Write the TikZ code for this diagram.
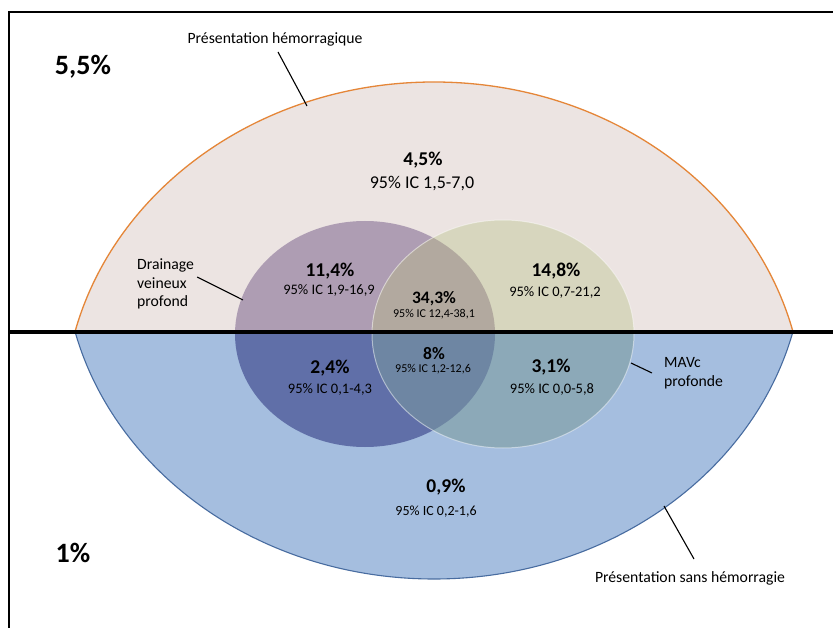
\documentclass[tikz,border=0pt]{standalone}
\usepackage{fontspec}
\setmainfont{Carlito}
\definecolor{hemoFill}{RGB}{236,228,226}
\definecolor{hemoLine}{RGB}{229,134,56}
\definecolor{sansFill}{RGB}{165,190,223}
\definecolor{sansLine}{RGB}{72,108,160}
\definecolor{drainHi}{RGB}{174,157,179}
\definecolor{drainLo}{RGB}{96,111,168}
\definecolor{mavcHi}{RGB}{215,214,190}
\definecolor{mavcLo}{RGB}{140,169,184}
\definecolor{bothHi}{RGB}{178,169,159}
\definecolor{bothLo}{RGB}{110,134,163}

\begin{document}
\begin{tikzpicture}[x = 1pt, y = -1pt]
\tikzstyle{PctStyle}=[font = \fontsize{19.5}{23}\selectfont\bfseries,
                      inner sep = 0pt]
\tikzstyle{CiStyle}=[font = \fontsize{14.5}{17}\selectfont,
                     inner sep = 0pt]
\tikzstyle{LabelStyle}=[font = \fontsize{15.7}{18.5}\selectfont,
                        inner sep = 0pt]
\tikzstyle{LeadStyle}=[line width = 1.1pt]
\tikzstyle{DrainShape}=[x radius = 130pt, y radius = 113pt]
\tikzstyle{MavcShape}=[x radius = 131pt, y radius = 114pt]
\useasboundingbox (0,0) rectangle (833,628);
\fill[white] (0,0) rectangle (833,628);
% the two halves
\begin{scope}
\clip (0,0) rectangle (833,332);
\filldraw[fill = hemoFill, draw = hemoLine, line width = 1.3pt]
  (434,412) ellipse [x radius = 370pt, y radius = 330pt];
\fill[drainHi] (365,334) ellipse [DrainShape];
\fill[mavcHi] (503,334) ellipse [MavcShape];
\clip (365,334) ellipse [DrainShape];
\fill[bothHi] (503,334) ellipse [MavcShape];
\end{scope}
\begin{scope}
\clip (0,332) rectangle (833,628);
\filldraw[fill = sansFill, draw = sansLine, line width = 1.1pt]
  (434,252) ellipse [x radius = 370pt, y radius = 327pt];
\fill[drainLo] (365,334) ellipse [DrainShape];
\fill[mavcLo] (503,334) ellipse [MavcShape];
\clip (365,334) ellipse [DrainShape];
\fill[bothLo] (503,334) ellipse [MavcShape];
\end{scope}
\draw[white, opacity = 0.45, line width = 1pt] (503,334) ellipse [MavcShape];
% frame
\draw[line width = 2pt] (9,628) -- (9,12) -- (833,12);
\draw[line width = 3.6pt] (9,332) -- (833,332);
% totals
\node[font = \fontsize{28}{32}\selectfont\bfseries, inner sep = 0pt] (tot55) at (83,67) {5,5\%};
\node[font = \fontsize{28}{32}\selectfont\bfseries, inner sep = 0pt] (tot1) at (73,553) {1\%};
% regions
\node[PctStyle] (p45) at (423,160) {4,5\%};
\node[CiStyle, font = \fontsize{18}{21}\selectfont] (ci45) at (422,184) {95\% IC 1,5-7,0};
\node[PctStyle] (p114) at (330,271) {11,4\%};
\node[CiStyle] (ci114) at (329,290) {95\% IC 1,9-16,9};
\node[PctStyle] (p148) at (556,271) {14,8\%};
\node[CiStyle] (ci148) at (555,292) {95\% IC 0,7-21,2};
\node[PctStyle, font = \fontsize{17.5}{21}\selectfont\bfseries] (p343) at (434,299) {34,3\%};
\node[CiStyle, font = \fontsize{12}{14}\selectfont] (ci343) at (434,314) {95\% IC 12,4-38,1};
\node[PctStyle] (p24) at (330,368) {2,4\%};
\node[CiStyle] (ci24) at (330,389) {95\% IC 0,1-4,3};
\node[PctStyle, font = \fontsize{17.5}{21}\selectfont\bfseries] (p8) at (434,354) {8\%};
\node[CiStyle, font = \fontsize{12}{14}\selectfont] (ci8) at (433,369) {95\% IC 1,2-12,6};
\node[PctStyle] (p31) at (551,367) {3,1\%};
\node[CiStyle] (ci31) at (552,389) {95\% IC 0,0-5,8};
\node[PctStyle] (p09) at (446,487) {0,9\%};
\node[CiStyle, font = \fontsize{14}{17}\selectfont] (ci09) at (436,512) {95\% IC 0,2-1,6};
% labels
\node[LabelStyle] (hemo) at (275,39) {Présentation hémorragique};
\node[LabelStyle, align = left, anchor = west] (drain) at (137,284) {Drainage\\veineux\\profond};
\node[LabelStyle, align = left, anchor = west] (mavc) at (664,373) {MAVc\\profonde};
\node[LabelStyle] (sans) at (690,578) {Présentation sans hémorragie};
\coordinate (a0) at (307,106);
\coordinate (a1) at (243,300);
\coordinate (a2) at (631,363);
\coordinate (a3) at (664,506);
\draw[LeadStyle] ([xshift = 3pt, yshift = -6pt]hemo.south) -- (a0);
\draw[LeadStyle] ([xshift = 3pt, yshift = 7pt]drain.east) -- (a1);
\draw[LeadStyle] ([xshift = -12pt]mavc.west) -- (a2);
\draw[LeadStyle] ([xshift = 4pt, yshift = 12pt]sans.north) -- (a3);
\end{tikzpicture}
\end{document}
